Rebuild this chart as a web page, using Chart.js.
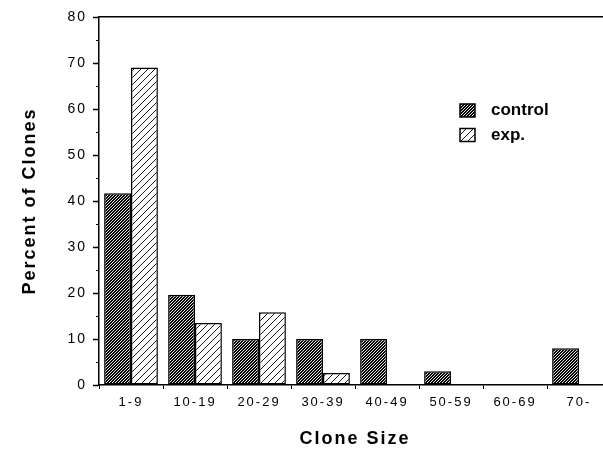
<!DOCTYPE html>
<html><head><meta charset="utf-8">
<style>
html,body{margin:0;padding:0;background:#fff;overflow:hidden;}
#wrap{width:603px;height:450px;overflow:hidden;position:relative;}
canvas{display:block;}
</style>
<script src="https://cdn.jsdelivr.net/npm/chart.js@4.4.1/dist/chart.umd.min.js"></script>
</head><body>
<div id="wrap"><canvas id="c" width="611" height="450"></canvas></div>
<script>
const categories = ['1-9','10-19','20-29','30-39','40-49','50-59','60-69','70-'];
const controlValues = [41.7, 19.6, 10, 10, 10, 3, 0, 8];
const expValues = [69, 13.5, 15.8, 2.6, 0, 0, 0, 0];
const seriesNames = ['control', 'exp.'];
const yTitle = 'Percent of Clones';
const xTitle = 'Clone Size';

function hatch(bg, fg, size, lw) {
  const c = document.createElement('canvas');
  c.width = size; c.height = size;
  const x = c.getContext('2d');
  x.fillStyle = bg; x.fillRect(0, 0, size, size);
  x.strokeStyle = fg; x.lineWidth = lw;
  x.beginPath();
  x.moveTo(-1, size + 1); x.lineTo(size + 1, -1);
  x.moveTo(-1, 1); x.lineTo(1, -1);
  x.moveTo(size - 1, size + 1); x.lineTo(size + 1, size - 1);
  x.stroke();
  return x.createPattern(c, 'repeat');
}
const controlFill = hatch('#000', '#fff', 3, 0.9);
const expFill = hatch('#fff', '#000', 7, 0.9);

const FONT = '"Liberation Sans", Arial, Helvetica, sans-serif';
Chart.defaults.font.family = FONT;
Chart.defaults.color = '#000';

const spacingPlugin = {
  id: 'spacing',
  beforeDraw(chart) { chart.ctx.letterSpacing = '2px'; }
};
const legendPlugin = {
  id: 'customLegend',
  afterDraw(chart) {
    const ctx = chart.ctx;
    ctx.save();
    ctx.letterSpacing = '0px';
    chart.data.datasets.forEach((ds, i) => {
      const bx = 460, by = 104 + i * 24.5;
      ctx.fillStyle = ds.backgroundColor;
      ctx.fillRect(bx, by, 15, 13);
      ctx.lineWidth = 1.5;
      ctx.strokeStyle = '#000';
      ctx.strokeRect(bx, by, 15, 13);
      ctx.fillStyle = '#000';
      ctx.font = 'bold 17px ' + FONT;
      ctx.textBaseline = 'middle';
      ctx.textAlign = 'left';
      ctx.fillText(ds.label, 491, by + 6.5);
    });
    ctx.restore();
  }
};

new Chart(document.getElementById('c'), {
  type: 'bar',
  data: {
    labels: categories,
    datasets: [
      { label: seriesNames[0], data: controlValues, backgroundColor: controlFill,
        borderColor: '#000', borderWidth: 1.5, borderSkipped: false,
        categoryPercentage: 0.84, barPercentage: 1 },
      { label: seriesNames[1], data: expValues, backgroundColor: expFill,
        borderColor: '#000', borderWidth: 1.5, borderSkipped: false,
        categoryPercentage: 0.84, barPercentage: 1 }
    ]
  },
  options: {
    responsive: false,
    animation: false,
    devicePixelRatio: 1,
    layout: { padding: { top: 17, left: 0, right: 0, bottom: 0 } },
    plugins: { legend: { display: false }, tooltip: { enabled: false } },
    scales: {
      x: {
        type: 'category', position: 'bottom', offset: true,
        grid: { display: true, drawOnChartArea: false, offset: true, tickLength: 4, tickColor: '#000', tickWidth: 1 },
        border: { display: true, color: '#000', width: 1.5 },
        ticks: { font: { size: 13 }, padding: 6, maxRotation: 0, autoSkip: false, color: '#000' },
        title: { display: true, text: xTitle, font: { size: 18, weight: 'bold' }, padding: { top: 0, bottom: 0 }, color: '#000' },
        afterFit(s) { s.height = 65; }
      },
      x2: {
        type: 'category', labels: categories, position: 'top',
        grid: { display: false, drawTicks: false },
        ticks: { display: false },
        border: { display: true, color: '#000', width: 1.5 },
        afterFit(s) { s.height = 0; }
      },
      y: {
        type: 'linear', position: 'left', weight: 1, min: 0, max: 80,
        ticks: { stepSize: 10, font: { size: 14 }, padding: 6, color: '#000' },
        grid: { drawOnChartArea: false, tickLength: 6, tickColor: '#000', tickWidth: 1.5 },
        border: { display: true, color: '#000', width: 1.5 },
        title: { display: true, text: yTitle, font: { size: 18, weight: 'bold' }, padding: { top: 19, bottom: 0 }, color: '#000' },
        afterFit(s) { s.width = 99; }
      },
      yMinor: {
        type: 'linear', position: 'left', weight: 0, min: 0, max: 80,
        ticks: { display: false, stepSize: 5 },
        grid: { drawOnChartArea: false, tickLength: 3, tickColor: '#000', tickWidth: 1 },
        border: { display: false },
        afterFit(s) { s.width = 0; }
      }
    }
  },
  plugins: [spacingPlugin, legendPlugin]
});
</script>
</body></html>
